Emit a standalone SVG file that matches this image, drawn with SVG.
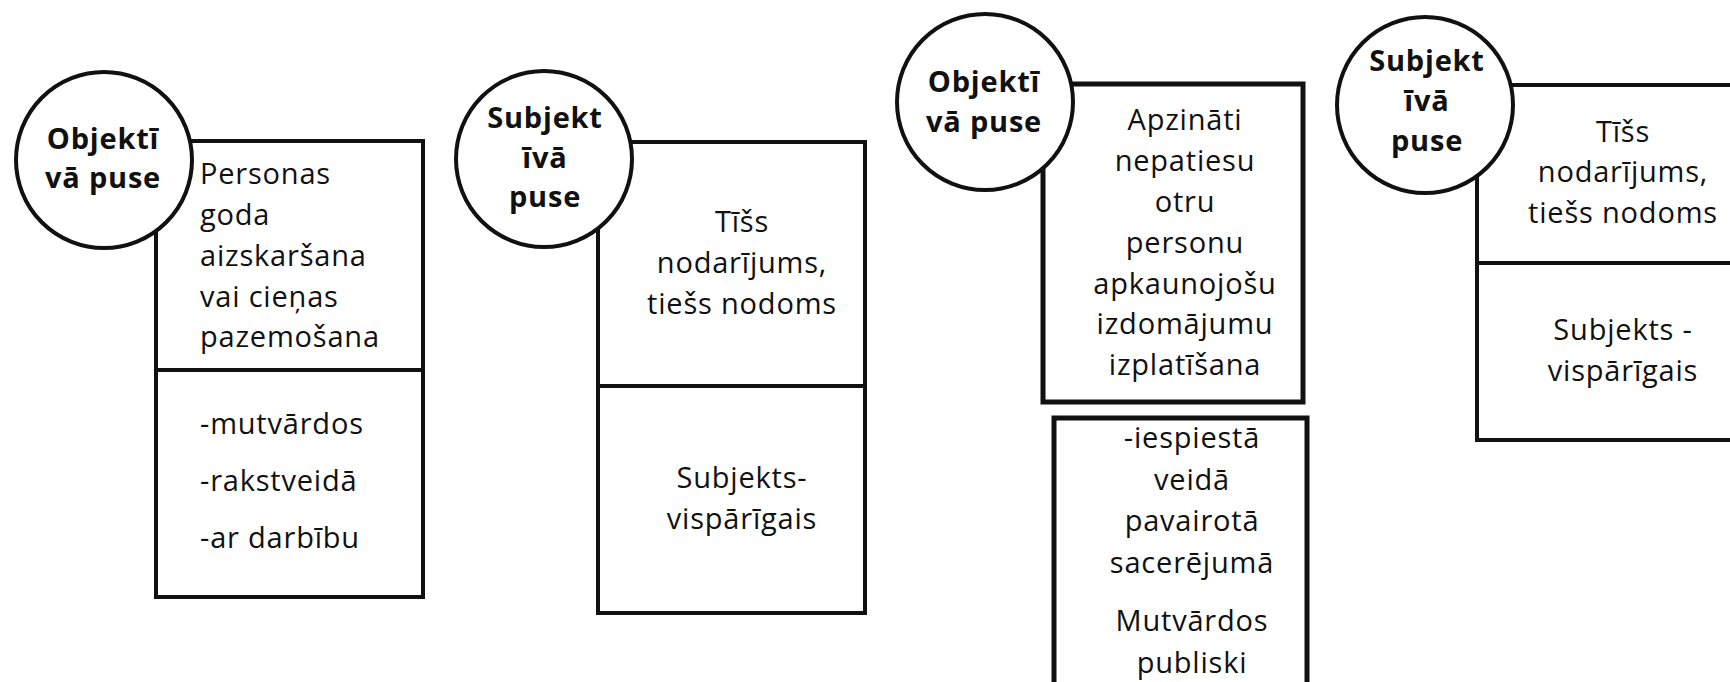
<svg xmlns="http://www.w3.org/2000/svg" width="1730" height="682" viewBox="0 0 1730 682">
<style>
.box{fill:#fff;stroke:#111;stroke-width:4}
.thick{stroke-width:5}
.div{stroke:#111;stroke-width:4}
.circ{fill:#fff;stroke:#111;stroke-width:4}
.t{font-family:"Open Sans","Liberation Sans",sans-serif;font-size:29px;letter-spacing:0.8px;fill:#111}
.c{text-anchor:middle}
.b{font-family:"Open Sans","Liberation Sans",sans-serif;font-size:29px;font-weight:bold;letter-spacing:0.8px;fill:#111;text-anchor:middle}
</style>
<rect width="1730" height="682" fill="#fff"/>
<g id="connectors"></g>
<g id="node1">
<rect class="box" x="156" y="141" width="267" height="456"/>
<line class="div" x1="156" y1="370" x2="423" y2="370"/>
<text class="t" x="200" y="184">Personas</text>
<text class="t" x="200" y="225">goda</text>
<text class="t" x="200" y="266">aizskaršana</text>
<text class="t" x="200" y="307">vai cieņas</text>
<text class="t" x="200" y="347">pazemošana</text>
<text class="t" x="200" y="434">-mutvārdos</text>
<text class="t" x="200" y="491">-rakstveidā</text>
<text class="t" x="200" y="548">-ar darbību</text>
<circle class="circ" cx="104" cy="160" r="88"/>
<text class="b" x="103" y="149">Objektī</text>
<text class="b" x="103" y="188">vā puse</text>
</g>
<g id="node2">
<rect class="box" x="598" y="142" width="267" height="471"/>
<line class="div" x1="598" y1="386" x2="865" y2="386"/>
<text class="t c" x="742" y="232">Tīšs</text>
<text class="t c" x="742" y="273">nodarījums,</text>
<text class="t c" x="742" y="314">tiešs nodoms</text>
<text class="t c" x="742" y="488">Subjekts-</text>
<text class="t c" x="742" y="529">vispārīgais</text>
<circle class="circ" cx="544" cy="159" r="88"/>
<text class="b" x="545" y="128">Subjekt</text>
<text class="b" x="545" y="168">īvā</text>
<text class="b" x="545" y="207">puse</text>
</g>
<g id="node3">
<rect class="box thick" x="1043" y="84" width="260" height="318"/>
<text class="t c" x="1185" y="130">Apzināti</text>
<text class="t c" x="1185" y="171">nepatiesu</text>
<text class="t c" x="1185" y="212">otru</text>
<text class="t c" x="1185" y="253">personu</text>
<text class="t c" x="1185" y="294">apkaunojošu</text>
<text class="t c" x="1185" y="334">izdomājumu</text>
<text class="t c" x="1185" y="375">izplatīšana</text>
<circle class="circ" cx="985" cy="102" r="88"/>
<text class="b" x="984" y="92">Objektī</text>
<text class="b" x="984" y="132">vā puse</text>
</g>
<g id="node3b">
<rect class="box thick" x="1054" y="418" width="253" height="290"/>
<text class="t c" x="1192" y="448">-iespiestā</text>
<text class="t c" x="1192" y="490">veidā</text>
<text class="t c" x="1192" y="531">pavairotā</text>
<text class="t c" x="1192" y="573">sacerējumā</text>
<text class="t c" x="1192" y="631">Mutvārdos</text>
<text class="t c" x="1192" y="673">publiski</text>
</g>
<g id="node4">
<rect class="box" x="1477" y="85" width="280" height="355"/>
<line class="div" x1="1477" y1="263" x2="1757" y2="263"/>
<text class="t c" x="1623" y="142">Tīšs</text>
<text class="t c" x="1623" y="182">nodarījums,</text>
<text class="t c" x="1623" y="223">tiešs nodoms</text>
<text class="t c" x="1623" y="340">Subjekts -</text>
<text class="t c" x="1623" y="381">vispārīgais</text>
<circle class="circ" cx="1425" cy="105" r="88"/>
<text class="b" x="1427" y="71">Subjekt</text>
<text class="b" x="1427" y="111">īvā</text>
<text class="b" x="1427" y="151">puse</text>
</g>
</svg>
